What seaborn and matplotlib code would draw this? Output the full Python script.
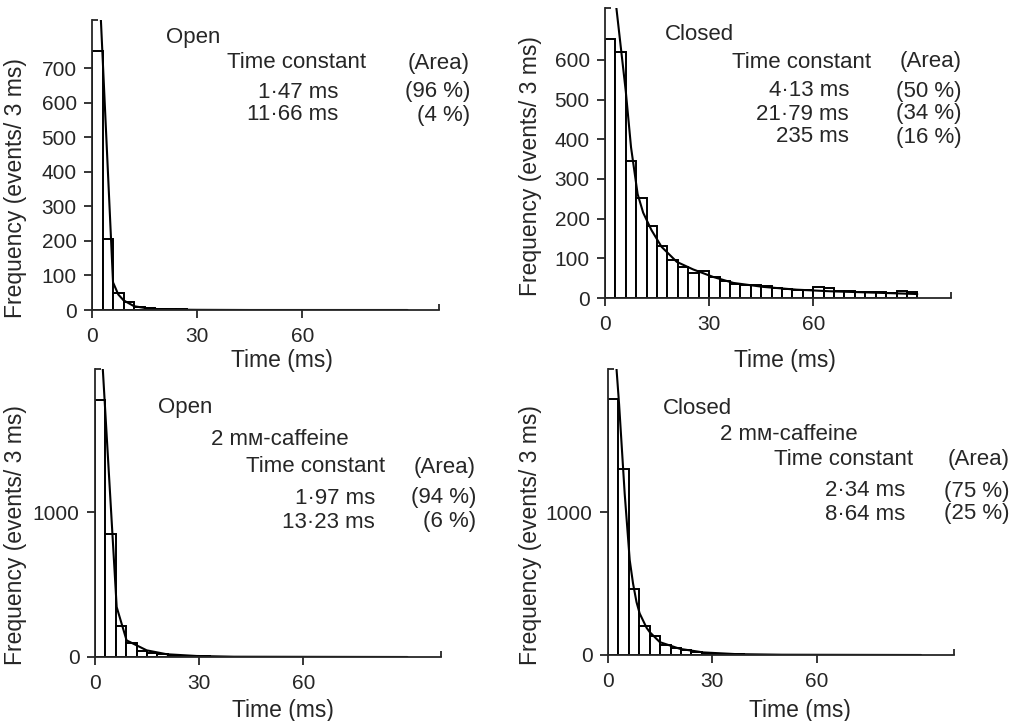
import numpy as np
import pandas as pd
import matplotlib
matplotlib.use("Agg")
import matplotlib.pyplot as plt
import seaborn as sns

# ---------------- data ----------------
bin_width = 3
bin_starts = np.arange(0, 90, bin_width)          # 30 bins of 3 ms (0-90 ms)

open_counts = [749, 205, 50, 24, 9, 5, 3, 2, 2, 1, 1, 1, 1, 0, 1,
               0, 0, 1, 0, 0, 0, 0, 0, 0, 0, 0, 0, 0, 0, 0]
open_fit_t = [2.4, 6.0, 7.5, 9.0, 12.0, 15.0, 18.0, 24.0, 30.0, 45.0, 90.0]
open_fit_v = [870, 80, 45, 28, 11, 6, 3, 1, 0.5, 0, 0]

closed_counts = [652, 620, 345, 251, 182, 132, 97, 78, 64, 69, 52, 43, 36, 34, 33,
                 31, 24, 23, 21, 19, 28, 24, 18, 17, 16, 15, 14, 13, 17, 14]
closed_fit_t = [3.1, 6.0, 7.5, 9.4, 11.0, 13.4, 16.3, 20.7, 25.4, 31.2, 37.0,
                45.6, 55.2, 64.8, 79.3, 90.0]
closed_fit_v = [745, 520, 380, 262, 215, 171, 129, 91, 72, 53, 38, 28, 21, 17, 13, 10]

open_caf_counts = [1775, 851, 214, 95, 41, 27, 18, 12, 8, 6, 4, 3, 2, 2, 1,
                   1, 1, 1, 0, 0, 0, 0, 0, 0, 0, 0, 0, 0, 0, 0]
open_caf_fit_t = [2.1, 6.25, 9.1, 14.9, 20.7, 29.3, 40.0, 90.0]
open_caf_fit_v = [2050, 345, 115, 46, 19, 7, 2, 0]

closed_caf_counts = [1791, 1303, 465, 204, 130, 67, 50, 33, 21, 15, 10, 7, 5, 3, 2,
                     2, 1, 1, 1, 0, 0, 0, 0, 0, 0, 0, 0, 0, 0, 0]
closed_caf_fit_t = [2.3, 3.2, 4.8, 6.25, 7.2, 8.2, 9.1, 11.1, 12.0, 14.9, 20.7,
                    27.4, 37.0, 50.0, 90.0]
closed_caf_fit_v = [2050, 1750, 1128, 663, 500, 370, 291, 190, 160, 90, 43, 18, 6, 2, 0]

x_ticks = [0, 30, 60]
open_yticks = [0, 100, 200, 300, 400, 500, 600, 700]
closed_yticks = [0, 100, 200, 300, 400, 500, 600]
caf_yticks = [0, 1000]

x_label = "Time (ms)"
y_label = "Frequency (events/ 3 ms)"

# ---------------- style ----------------
sns.set_style("ticks")
plt.rcParams["font.family"] = ["Liberation Sans", "DejaVu Sans"]
plt.rcParams["axes.linewidth"] = 1.3
plt.rcParams["xtick.major.width"] = 1.3
plt.rcParams["ytick.major.width"] = 1.3

W, H = 1023, 721
fig = plt.figure(figsize=(W / 100, H / 100), dpi=100)


def px_axes(left, top, right, bottom):
    return fig.add_axes([left / W, 1 - bottom / H, (right - left) / W, (bottom - top) / H])


def ftext(x, y, s, ha="left", size=16, **kw):
    fig.text(x / W, 1 - y / H, s, ha=ha, va="center", fontsize=size, **kw)


def panel(ax, counts, fit_t, fit_v, xmax, ymax, yticks):
    hist_df = pd.DataFrame({"t": bin_starts + bin_width / 2, "n": counts})
    fit_df = pd.DataFrame({"t": fit_t, "v": fit_v})
    sns.histplot(data=hist_df, x="t", weights="n",
                 binwidth=bin_width, binrange=(0, 90), ax=ax,
                 color="white", edgecolor="black", linewidth=1.4, alpha=1)
    sns.lineplot(data=fit_df, x="t", y="v", ax=ax, color="black", linewidth=1.5,
                 estimator=None, sort=False)
    ax.set_xlim(0, xmax)
    ax.set_ylim(0, ymax)
    ax.set_xticks(x_ticks)
    ax.set_yticks(yticks)
    ax.set_xticks([xmax], minor=True)
    ax.set_yticks([ymax], minor=True)
    ax.tick_params(which="major", direction="out", length=6, labelsize=15)
    ax.tick_params(axis="x", which="major", pad=6)
    ax.tick_params(axis="y", which="major", pad=5)
    ax.tick_params(which="minor", direction="in", length=4, width=1.3)
    ax.set_xlabel("")
    ax.set_ylabel("")
    sns.despine(ax=ax)


ax1 = px_axes(92, 20, 439, 310)
panel(ax1, open_counts, open_fit_t, open_fit_v, 99, 840, open_yticks)
ax2 = px_axes(605, 8, 951, 298)
panel(ax2, closed_counts, closed_fit_t, closed_fit_v, 99.7, 731, closed_yticks)
ax3 = px_axes(95, 369, 441, 657)
panel(ax3, open_caf_counts, open_caf_fit_t, open_caf_fit_v, 99.7, 1990, caf_yticks)
ax4 = px_axes(608, 369, 954, 655)
panel(ax4, closed_caf_counts, closed_caf_fit_t, closed_caf_fit_v, 99.5, 2000, caf_yticks)

# axis labels
for (x, y) in [(16, 188), (530, 166), (16, 535), (530, 535)]:
    ftext(x, y, y_label, ha="center", size=16.5, rotation=90)
for (x, y) in [(282, 361), (785, 360), (283, 710), (800, 710)]:
    ftext(x, y, x_label, ha="center", size=16.5)

# panel 1 annotations
ftext(166, 37, "Open")
ftext(227, 63, "Time constant")
ftext(470, 63, "(Area)", ha="right")
ftext(338, 92, "1·47 ms", ha="right")
ftext(338, 115, "11·66 ms", ha="right")
ftext(470, 92, "(96 %)", ha="right")
ftext(470, 115, "(4 %)", ha="right")

# panel 2 annotations
ftext(665, 35, "Closed")
ftext(732, 62, "Time constant")
ftext(962, 62, "(Area)", ha="right")
ftext(849, 91, "4·13 ms", ha="right")
ftext(849, 114, "21·79 ms", ha="right")
ftext(849, 137, "235 ms", ha="right")
ftext(962, 91, "(50 %)", ha="right")
ftext(962, 114, "(34 %)", ha="right")
ftext(962, 137, "(16 %)", ha="right")

# panel 3 annotations
ftext(158, 408, "Open")
ftext(211, 440, "2 mᴍ-caffeine")
ftext(246, 467, "Time constant")
ftext(476, 467, "(Area)", ha="right")
ftext(375, 498, "1·97 ms", ha="right")
ftext(375, 522, "13·23 ms", ha="right")
ftext(476, 498, "(94 %)", ha="right")
ftext(476, 522, "(6 %)", ha="right")

# panel 4 annotations
ftext(663, 408, "Closed")
ftext(720, 435, "2 mᴍ-caffeine")
ftext(774, 459, "Time constant")
ftext(1010, 459, "(Area)", ha="right")
ftext(905, 491, "2·34 ms", ha="right")
ftext(905, 514, "8·64 ms", ha="right")
ftext(1010, 491, "(75 %)", ha="right")
ftext(1010, 514, "(25 %)", ha="right")

fig.savefig("out.png", dpi=100)
